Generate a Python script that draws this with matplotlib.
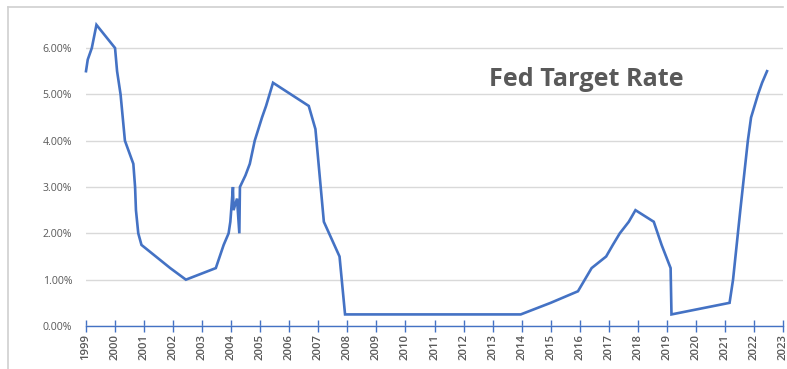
import matplotlib
matplotlib.use("Agg")
import matplotlib.pyplot as plt
from matplotlib.lines import Line2D
from matplotlib.ticker import PercentFormatter

# Data: decimal year, target rate (%)
years = [1999.00, 1999.06, 1999.20, 1999.36, 2000.00, 2000.07, 2000.19, 2000.34,
         2000.63, 2000.69, 2000.72, 2000.80, 2000.91, 2001.90, 2002.44, 2003.47,
         2003.74, 2003.91, 2003.97, 2004.06, 2004.08, 2004.20, 2004.28, 2004.30,
         2004.49, 2004.64, 2004.81, 2005.06, 2005.20, 2005.44, 2006.67, 2006.90,
         2007.19, 2007.73, 2007.92, 2013.97, 2015.00, 2015.94, 2016.41, 2016.91,
         2017.14, 2017.38, 2017.69, 2017.92, 2018.55, 2018.82, 2019.13, 2019.16,
         2021.16, 2021.28, 2021.53, 2021.79, 2021.90, 2022.14, 2022.28, 2022.45]
rates = [5.50, 5.75, 6.00, 6.50, 6.00, 5.50, 5.00, 4.00,
         3.50, 3.00, 2.50, 2.00, 1.75, 1.25, 1.00, 1.25,
         1.75, 2.00, 2.25, 3.00, 2.50, 2.75, 2.00, 3.00,
         3.25, 3.50, 4.00, 4.50, 4.75, 5.25, 4.75, 4.25,
         2.25, 1.50, 0.25, 0.25, 0.50, 0.75, 1.25, 1.50,
         1.75, 2.00, 2.25, 2.50, 2.25, 1.75, 1.25, 0.25,
         0.50, 1.00, 2.50, 4.00, 4.50, 5.00, 5.25, 5.50]
year_ticks = list(range(1999, 2024))
y_ticks = [0, 1, 2, 3, 4, 5, 6]
title = "Fed Target Rate"

W, H = 787, 369
fig = plt.figure(figsize=(W / 100, H / 100), dpi=100)
fig.patch.set_facecolor("white")

left, right, bottom_px, top_px = 86, 783, 326, 8
ax = fig.add_axes([left / W, (H - bottom_px) / H, (right - left) / W, (bottom_px - top_px) / H])

blue = "#4472C4"
grey_text = "#595959"

ax.plot(years, rates, color=blue, linewidth=1.9, solid_joinstyle="miter", zorder=3, clip_on=False)

ax.set_xlim(1999, 2023)
ax.set_ylim(0, (bottom_px - top_px) / 46.33)
ax.set_xticks(year_ticks)
ax.set_xticklabels([str(y) for y in year_ticks], rotation=90, fontsize=8.2,
                   color=grey_text, family="Open Sans", fontweight="semibold")
ax.set_yticks(y_ticks)
ax.yaxis.set_major_formatter(PercentFormatter(decimals=2))
for lbl in ax.get_yticklabels():
    lbl.set_fontsize(7.6)
    lbl.set_color(grey_text)
    lbl.set_family("Open Sans")

ax.grid(axis="y", color="#d9d9d9", linewidth=1.0, zorder=0)
for s in ["top", "right", "left"]:
    ax.spines[s].set_visible(False)
ax.spines["bottom"].set_color(blue)
ax.spines["bottom"].set_linewidth(1.0)
ax.tick_params(axis="x", direction="inout", length=8, width=1.0, color=blue, pad=2)
ax.tick_params(axis="y", length=0, pad=10)
ax.set_facecolor("none")

fig.text(586 / W, 1 - 79 / H, title, ha="center", va="center", fontsize=18.2,
         fontweight="bold", color=grey_text, family="Open Sans")

# chart frame
fig.add_artist(Line2D([8 / W, 783 / W], [1 - 7 / H, 1 - 7 / H], color="#d0d0d0", linewidth=1.2, transform=fig.transFigure))
fig.add_artist(Line2D([8 / W, 8 / W], [1 - 7 / H, 0], color="#d0d0d0", linewidth=1.2, transform=fig.transFigure))

fig.savefig("out.png", dpi=100)
